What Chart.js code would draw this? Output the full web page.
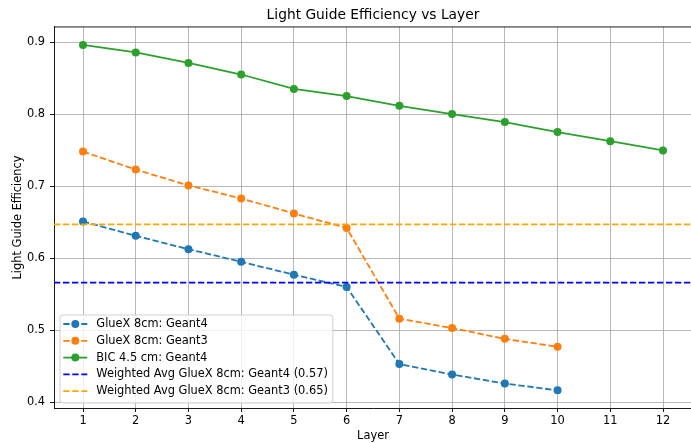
<!DOCTYPE html>
<html>
<head>
<meta charset="utf-8">
<script src="https://cdn.jsdelivr.net/npm/chart.js@4.4.0/dist/chart.umd.min.js"></script>
<style>
  html, body { margin: 0; padding: 0; background: #fff; overflow: hidden; }
  canvas { display: block; }
</style>
</head>
<body>
<canvas id="chart" width="696" height="443"></canvas>
<script>
// efficiency per layer
const layers = [1, 2, 3, 4, 5, 6, 7, 8, 9, 10, 11, 12];
const glueLayers = [1, 2, 3, 4, 5, 6, 7, 8, 9, 10];
const glueGeant4 = [0.651, 0.631, 0.6125, 0.595, 0.577, 0.560, 0.453, 0.4385, 0.426, 0.4165];
const glueGeant3 = [0.748, 0.723, 0.701, 0.683, 0.662, 0.642, 0.516, 0.503, 0.488, 0.477];
const bicGeant4 = [0.896, 0.8857, 0.871, 0.855, 0.835, 0.825, 0.8115, 0.800, 0.789, 0.775, 0.7625, 0.7496];

// weighted averages (horizontal reference lines)
const avgGeant4 = 0.566;
const avgGeant3 = 0.647;

const yTicks = [0.4, 0.5, 0.6, 0.7, 0.8, 0.9];
const xLimits = [0.45, 12.55];
const yLimits = [0.392, 0.921];

const FONT = 'DejaVu Sans';
const FONT_SIZE = 11.4;
const BLUE = '#1f77b4', ORANGE = '#ff7f0e', GREEN = '#2ca02c';

const pts = (xs, ys) => xs.map((x, i) => ({ x: x, y: ys[i] }));
const hline = (v) => [{ x: xLimits[0], y: v }, { x: xLimits[1], y: v }];

function series(label, data, color, dashed, order) {
    return {
        label: label,
        data: data,
        borderColor: color,
        backgroundColor: color,
        pointBackgroundColor: color,
        pointBorderColor: color,
        borderWidth: 1.8,
        borderDash: dashed ? [6.3, 2.7] : [],
        pointRadius: 4,
        pointBorderWidth: 0,
        tension: 0,
        order: order
    };
}

function avgLine(label, value, color, order) {
    return {
        label: label,
        data: hline(value),
        borderColor: color,
        backgroundColor: color,
        borderWidth: 1.8,
        borderDash: [6.3, 2.7],
        pointRadius: 0,
        order: order
    };
}

// top spine
const frame = {
    id: 'frame',
    afterDraw(chart) {
        const { ctx, chartArea: a } = chart;
        ctx.save();
        ctx.strokeStyle = '#000';
        ctx.lineWidth = 0.9;
        ctx.beginPath();
        ctx.moveTo(a.left, a.top);
        ctx.lineTo(a.right, a.top);
        ctx.stroke();
        ctx.restore();
    }
};

// legend box in the lower-left corner of the plot area
const boxLegend = {
    id: 'boxLegend',
    afterDraw(chart) {
        const { ctx, chartArea: a } = chart;
        const sets = chart.data.datasets;
        const rowH = 16.8;
        ctx.save();
        ctx.font = FONT_SIZE + 'px "' + FONT + '"';
        const textW = Math.max(...sets.map(d => ctx.measureText(d.label).width));
        const w = 36.3 + textW + 5;
        const h = 9 + rowH * (sets.length - 1) + 11.8;
        const x = a.left + 6;
        const y = a.bottom - 5 - h;

        ctx.beginPath();
        ctx.roundRect(x, y, w, h, 3);
        ctx.fillStyle = 'rgba(255,255,255,0.8)';
        ctx.fill();
        ctx.strokeStyle = '#cccccc';
        ctx.lineWidth = 0.9;
        ctx.stroke();

        sets.forEach((d, i) => {
            const cy = y + 9 + i * rowH;
            const hx = x + 3.3;
            ctx.strokeStyle = d.borderColor;
            ctx.lineWidth = d.borderWidth;
            ctx.setLineDash(d.borderDash || []);
            ctx.beginPath();
            ctx.moveTo(hx, cy);
            ctx.lineTo(hx + 24, cy);
            ctx.stroke();
            ctx.setLineDash([]);
            if (d.pointRadius > 0) {
                ctx.fillStyle = d.pointBackgroundColor;
                ctx.beginPath();
                ctx.arc(hx + 12, cy, d.pointRadius, 0, Math.PI * 2);
                ctx.fill();
            }
            ctx.fillStyle = '#000';
            ctx.textBaseline = 'middle';
            ctx.textAlign = 'left';
            ctx.fillText(d.label, x + 36.3, cy);
        });
        ctx.restore();
    }
};

Chart.defaults.font.family = FONT;
Chart.defaults.font.size = FONT_SIZE;
Chart.defaults.color = '#000';

new Chart(document.getElementById('chart'), {
    type: 'line',
    data: {
        datasets: [
            series('GlueX 8cm: Geant4', pts(glueLayers, glueGeant4), BLUE, true, 5),
            series('GlueX 8cm: Geant3', pts(glueLayers, glueGeant3), ORANGE, true, 4),
            series('BIC 4.5 cm: Geant4', pts(layers, bicGeant4), GREEN, false, 3),
            avgLine('Weighted Avg GlueX 8cm: Geant4 (' + avgGeant4.toFixed(2) + ')', avgGeant4, '#0000ff', 2),
            avgLine('Weighted Avg GlueX 8cm: Geant3 (' + avgGeant3.toFixed(2) + ')', avgGeant3, '#ffa500', 1)
        ]
    },
    options: {
        responsive: false,
        animation: false,
        devicePixelRatio: 1,
        events: [],
        layout: { padding: 0 },
        plugins: {
            legend: { display: false },
            tooltip: { enabled: false },
            title: {
                display: true,
                fullSize: false,
                text: 'Light Guide Efficiency vs Layer',
                color: '#000',
                font: { family: FONT, size: 13.8, weight: 'normal', lineHeight: 1.2 },
                padding: { top: 6.7, bottom: 3.7 }
            }
        },
        scales: {
            x: {
                type: 'linear',
                min: xLimits[0],
                max: xLimits[1],
                afterBuildTicks: s => { s.ticks = layers.map(v => ({ value: v })); },
                afterFit: s => { s.height = 35; },
                ticks: { padding: 2, maxRotation: 0, callback: v => String(v) },
                grid: { color: '#b0b0b0', lineWidth: 0.9, tickColor: '#000', tickLength: 4, tickWidth: 0.9 },
                border: { color: '#000', width: 0.9 },
                title: { display: true, text: 'Layer', font: { size: FONT_SIZE }, padding: { top: 0, bottom: 0 } }
            },
            y: {
                type: 'linear',
                min: yLimits[0],
                max: yLimits[1],
                afterBuildTicks: s => { s.ticks = yTicks.map(v => ({ value: v })); },
                afterFit: s => { s.width = 54; },
                ticks: { padding: 5, callback: v => v.toFixed(1) },
                grid: { color: '#b0b0b0', lineWidth: 0.9, tickColor: '#000', tickLength: 4, tickWidth: 0.9 },
                border: { color: '#000', width: 0.9 },
                title: { display: true, text: 'Light Guide Efficiency', font: { size: FONT_SIZE }, padding: { top: 11.2, bottom: 0 } }
            }
        }
    },
    plugins: [frame, boxLegend]
});
</script>
</body>
</html>
